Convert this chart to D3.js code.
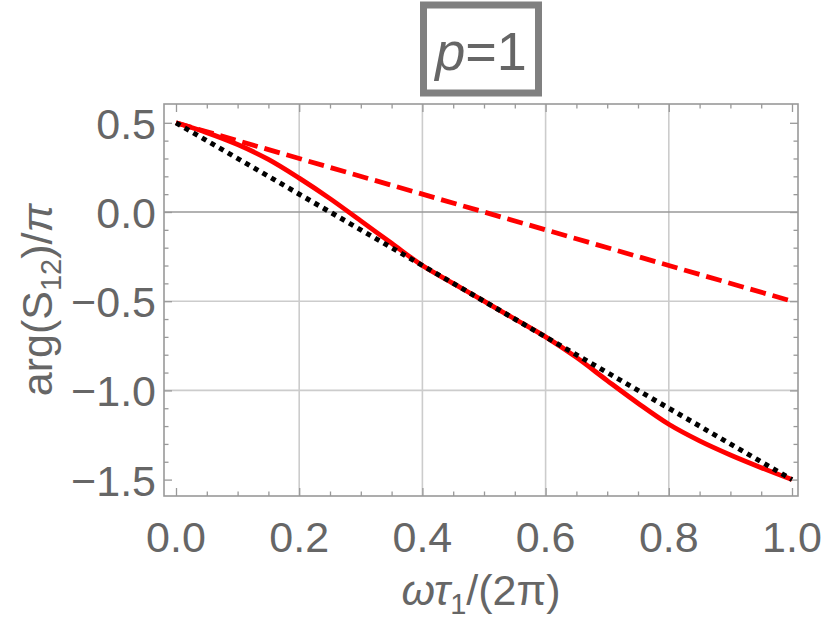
<!DOCTYPE html>
<html>
<head>
<meta charset="utf-8">
<script src="https://cdn.jsdelivr.net/npm/d3@7"></script>
<style>
  html, body { margin: 0; padding: 0; background: #ffffff; }
  svg { display: block; }
  text { font-family: "Liberation Sans", Arial, sans-serif; fill: #666666; }
</style>
</head>
<body>
<div id="chart"></div>
<script>
// ---------- data ----------
const xGrid = [0, 0.05, 0.1, 0.15, 0.2, 0.25, 0.3, 0.35, 0.4, 0.45, 0.5,
               0.55, 0.6, 0.65, 0.7, 0.75, 0.8, 0.85, 0.9, 0.95, 1.0];
const solidRed = [0.5, 0.445, 0.378, 0.295, 0.19, 0.075, -0.05, -0.175, -0.3, -0.4, -0.5,
                  -0.6, -0.7, -0.815, -0.945, -1.072, -1.19, -1.283, -1.362, -1.433, -1.5];
const dashedX = [0, 1];
const dashedRed = [0.5, -0.5];
const dottedX = [0, 1];
const dottedBlack = [0.5, -1.5];

const xTicks = [0, 0.2, 0.4, 0.6, 0.8, 1.0];
const xTickLabels = ["0.0", "0.2", "0.4", "0.6", "0.8", "1.0"];
const yTicks = [0.5, 0, -0.5, -1.0, -1.5];
const yTickLabels = ["0.5", "0.0", "\u22120.5", "\u22121.0", "\u22121.5"];
const xGridLines = [0.2, 0.4, 0.6, 0.8];
const yGridLines = [-0.5, -1.0];
const titleText = "p=1";

// ---------- layout ----------
const W = 825, H = 625;
const frame = {left: 164, right: 798, top: 104, bottom: 496};
const x = d3.scaleLinear().domain([0, 1]).range([176, 792]);
const y = d3.scaleLinear().domain([-1.5, 0.5]).range([479.6, 122.8]);

const svg = d3.select("#chart").append("svg").attr("width", W).attr("height", H);

// grid
svg.append("g").selectAll("line").data(xGridLines).join("line")
  .attr("x1", d => x(d)).attr("x2", d => x(d))
  .attr("y1", frame.top).attr("y2", frame.bottom)
  .attr("stroke", "#cccccc").attr("stroke-width", 1.6);
svg.append("g").selectAll("line").data(yGridLines).join("line")
  .attr("x1", frame.left).attr("x2", frame.right)
  .attr("y1", d => y(d)).attr("y2", d => y(d))
  .attr("stroke", "#cccccc").attr("stroke-width", 1.6);
// zero axis
svg.append("line")
  .attr("x1", frame.left).attr("x2", frame.right)
  .attr("y1", y(0)).attr("y2", y(0))
  .attr("stroke", "#999999").attr("stroke-width", 1.6);

// ticks via d3 axes
const xMinor = d3.range(0, 1.0001, 0.05).filter(v => Math.abs(v * 5 - Math.round(v * 5)) > 1e-6);
const yMinor = d3.range(-1.5, 0.5001, 0.1).filter(v => Math.abs(v * 2 - Math.round(v * 2)) > 1e-6);

function styleAxis(g) {
  g.select(".domain").remove();
  g.selectAll(".tick line").attr("stroke", "#999999").attr("stroke-width", 1.3);
  g.selectAll(".tick text").remove();
}
// bottom
svg.append("g").attr("transform", `translate(0,${frame.bottom})`)
  .call(d3.axisBottom(x).tickValues(xTicks).tickSize(-8)).call(styleAxis);
svg.append("g").attr("transform", `translate(0,${frame.bottom})`)
  .call(d3.axisBottom(x).tickValues(xMinor).tickSize(-4.5)).call(styleAxis);
// top
svg.append("g").attr("transform", `translate(0,${frame.top})`)
  .call(d3.axisTop(x).tickValues(xTicks).tickSize(-8)).call(styleAxis);
svg.append("g").attr("transform", `translate(0,${frame.top})`)
  .call(d3.axisTop(x).tickValues(xMinor).tickSize(-4.5)).call(styleAxis);
// left
svg.append("g").attr("transform", `translate(${frame.left},0)`)
  .call(d3.axisLeft(y).tickValues(yTicks).tickSize(-8)).call(styleAxis);
svg.append("g").attr("transform", `translate(${frame.left},0)`)
  .call(d3.axisLeft(y).tickValues(yMinor).tickSize(-4.5)).call(styleAxis);
// right
svg.append("g").attr("transform", `translate(${frame.right},0)`)
  .call(d3.axisRight(y).tickValues(yTicks).tickSize(-8)).call(styleAxis);
svg.append("g").attr("transform", `translate(${frame.right},0)`)
  .call(d3.axisRight(y).tickValues(yMinor).tickSize(-4.5)).call(styleAxis);

// frame
svg.append("rect")
  .attr("x", frame.left).attr("y", frame.top)
  .attr("width", frame.right - frame.left).attr("height", frame.bottom - frame.top)
  .attr("fill", "none").attr("stroke", "#999999").attr("stroke-width", 1.6);

// tick labels
svg.append("g").selectAll("text").data(xTicks).join("text")
  .attr("x", d => x(d)).attr("y", 552)
  .attr("text-anchor", "middle").attr("font-size", 43)
  .text((d, i) => xTickLabels[i]);
svg.append("g").selectAll("text").data(yTicks).join("text")
  .attr("x", 156).attr("y", d => y(d) + 16)
  .attr("text-anchor", "end").attr("font-size", 43)
  .text((d, i) => yTickLabels[i]);

// lines
const solidPts = xGrid.map((v, i) => [v, solidRed[i]]);
const dashedPts = dashedX.map((v, i) => [v, dashedRed[i]]);
const dottedPts = dottedX.map((v, i) => [v, dottedBlack[i]]);
const straight = d3.line().x(d => x(d[0])).y(d => y(d[1]));
const smooth = d3.line().x(d => x(d[0])).y(d => y(d[1])).curve(d3.curveCatmullRom.alpha(0.5));

svg.append("path").datum(solidPts)
  .attr("d", smooth)
  .attr("fill", "none").attr("stroke", "#ff0000").attr("stroke-width", 4.8);
svg.append("path").datum(dashedPts)
  .attr("d", straight)
  .attr("fill", "none").attr("stroke", "#ff0000").attr("stroke-width", 4.8)
  .attr("stroke-dasharray", "16,7");
svg.append("path").datum(dottedPts)
  .attr("d", straight)
  .attr("fill", "none").attr("stroke", "#000000").attr("stroke-width", 5)
  .attr("stroke-dasharray", "5,5");

// axis labels
const xl = svg.append("text").attr("x", 481).attr("y", 605)
  .attr("text-anchor", "middle").attr("font-size", 43);
xl.append("tspan").attr("font-style", "italic").text("ωτ");
xl.append("tspan").attr("font-size", 29).attr("dy", 9).text("1");
xl.append("tspan").attr("dy", -9).text("/(2π)");

const yl = svg.append("text")
  .attr("transform", "translate(52,300) rotate(-90)")
  .attr("text-anchor", "middle").attr("font-size", 43);
yl.append("tspan").text("arg(S");
yl.append("tspan").attr("font-size", 29).attr("dy", 9).text("12");
yl.append("tspan").attr("dy", -9).text(")/");
yl.append("tspan").attr("font-style", "italic").text("π");

// title box
svg.append("rect")
  .attr("x", 423.5).attr("y", 5).attr("width", 115).attr("height", 88)
  .attr("fill", "#ffffff").attr("stroke", "#808080").attr("stroke-width", 7);
const tt = svg.append("text").attr("x", 481).attr("y", 70)
  .attr("text-anchor", "middle").attr("font-size", 54);
tt.append("tspan").attr("font-style", "italic").text(titleText.slice(0, 1));
tt.append("tspan").text(titleText.slice(1));
</script>
</body>
</html>
